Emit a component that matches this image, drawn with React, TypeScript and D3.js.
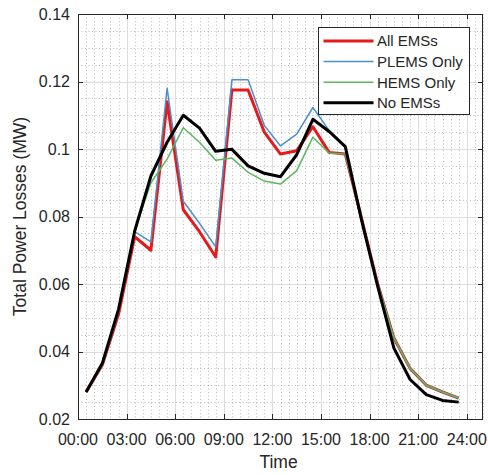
import { useRef, useEffect } from 'react';
import * as d3 from 'd3';

// half-hour sample points, hours since midnight
const hours = [0.5, 1.5, 2.5, 3.5, 4.5, 5.5, 6.5, 7.5, 8.5, 9.5, 10.5, 11.5, 12.5, 13.5, 14.5, 15.5, 16.5, 17.5, 18.5, 19.5, 20.5, 21.5, 22.5, 23.5];

const allEMSs = [0.028, 0.036, 0.051, 0.074, 0.070, 0.114, 0.082, 0.0755, 0.068, 0.1175, 0.1175, 0.105, 0.0985, 0.0995, 0.1066, 0.099, 0.0985, 0.0795, 0.060, 0.044, 0.035, 0.030, 0.028, 0.0262];
const plemsOnly = [0.028, 0.036, 0.052, 0.0755, 0.0725, 0.118, 0.0845, 0.078, 0.071, 0.1205, 0.1205, 0.107, 0.1009, 0.1044, 0.1123, 0.1055, 0.1005, 0.0795, 0.060, 0.044, 0.035, 0.030, 0.028, 0.0262];
const hemsOnly = [0.028, 0.036, 0.052, 0.0758, 0.090, 0.097, 0.1063, 0.102, 0.0967, 0.0973, 0.0931, 0.0905, 0.0896, 0.0936, 0.1035, 0.0988, 0.0985, 0.0795, 0.060, 0.044, 0.035, 0.030, 0.028, 0.0262];
const noEMSs = [0.028, 0.0365, 0.0525, 0.0757, 0.092, 0.102, 0.110, 0.1062, 0.0993, 0.0999, 0.095, 0.0928, 0.0918, 0.0983, 0.1088, 0.1052, 0.1007, 0.079, 0.0593, 0.041, 0.0317, 0.0272, 0.0255, 0.025];

const seriesNames = ['All EMSs', 'PLEMS Only', 'HEMS Only', 'No EMSs'];
const seriesColors = ['#e41a1c', '#4a90cc', '#5cb85c', '#000000'];
const seriesWidths = [3, 1.5, 1.5, 3];

const xTicks = [0, 3, 6, 9, 12, 15, 18, 21, 24];
const yTicks = [0.02, 0.04, 0.06, 0.08, 0.1, 0.12, 0.14];

export default function App() {
  const svgRef = useRef(null);

  useEffect(() => {
    const width = 488;
    const height = 475;
    const margin = { top: 14, right: 5, bottom: 56, left: 78 };
    const axisColor = '#262626';
    const font = 'Liberation Sans, Arial, Helvetica, sans-serif';

    const svg = d3.select(svgRef.current);
    svg.selectAll('*').remove();

    const x = d3.scaleLinear().domain([0, 25]).range([margin.left, width - margin.right]);
    const y = d3.scaleLinear().domain([0.02, 0.14]).range([height - margin.bottom, margin.top]);
    const [x0, x1] = x.range();
    const [y0, y1] = y.range();

    svg.append('rect')
      .attr('x', x0).attr('y', y1)
      .attr('width', x1 - x0).attr('height', y0 - y1)
      .attr('fill', '#fff');

    // minor grid (dotted)
    const xMinor = d3.range(0, 25.01, 0.5).filter(h => h % 3 !== 0);
    const yMinor = d3.range(0.02, 0.1401, 0.005).filter(v => Math.abs(v / 0.02 - Math.round(v / 0.02)) > 1e-6);
    const minor = svg.append('g')
      .attr('stroke', '#8a8a8a')
      .attr('stroke-opacity', 0.55)
      .attr('stroke-width', 1)
      .attr('stroke-dasharray', '1,2.5');
    minor.selectAll('.vx').data(xMinor).join('line')
      .attr('x1', d => Math.round(x(d)) + 0.5).attr('x2', d => Math.round(x(d)) + 0.5)
      .attr('y1', y1).attr('y2', y0);
    minor.selectAll('.hy').data(yMinor).join('line')
      .attr('y1', d => Math.round(y(d)) + 0.5).attr('y2', d => Math.round(y(d)) + 0.5)
      .attr('x1', x0).attr('x2', x1);

    // major grid
    const major = svg.append('g').attr('stroke', '#dcdcdc').attr('stroke-width', 1);
    major.selectAll('.gx').data(xTicks).join('line')
      .attr('x1', d => Math.round(x(d)) + 0.5).attr('x2', d => Math.round(x(d)) + 0.5)
      .attr('y1', y1).attr('y2', y0);
    major.selectAll('.gy').data(yTicks).join('line')
      .attr('y1', d => Math.round(y(d)) + 0.5).attr('y2', d => Math.round(y(d)) + 0.5)
      .attr('x1', x0).attr('x2', x1);

    // lines
    const allSeries = [allEMSs, plemsOnly, hemsOnly, noEMSs];
    const line = d3.line().x((d, i) => x(hours[i])).y(d => y(d));
    allSeries.forEach((vals, k) => {
      svg.append('path')
        .datum(vals)
        .attr('d', line)
        .attr('fill', 'none')
        .attr('stroke', seriesColors[k])
        .attr('stroke-width', seriesWidths[k])
        .attr('stroke-linejoin', 'round');
    });

    // axes box with inward ticks
    const box = svg.append('g').attr('stroke', axisColor).attr('stroke-width', 1).attr('fill', 'none');
    box.append('rect')
      .attr('x', x0 + 0.5).attr('y', y1 + 0.5)
      .attr('width', x1 - x0 - 1).attr('height', y0 - y1);
    const tl = 5;
    xTicks.forEach(t => {
      const px = Math.round(x(t)) + 0.5;
      box.append('line').attr('x1', px).attr('x2', px).attr('y1', y0).attr('y2', y0 - tl);
      box.append('line').attr('x1', px).attr('x2', px).attr('y1', y1).attr('y2', y1 + tl);
    });
    yTicks.forEach(t => {
      const py = Math.round(y(t)) + 0.5;
      box.append('line').attr('y1', py).attr('y2', py).attr('x1', x0).attr('x2', x0 + tl);
      box.append('line').attr('y1', py).attr('y2', py).attr('x1', x1).attr('x2', x1 - tl);
    });

    // tick labels
    const fmtTime = h => `${String(h).padStart(2, '0')}:00`;
    svg.append('g').selectAll('text').data(xTicks).join('text')
      .attr('x', d => x(d))
      .attr('y', y0 + 26)
      .attr('text-anchor', 'middle')
      .attr('font-family', font)
      .attr('font-size', 16)
      .attr('fill', axisColor)
      .text(fmtTime);

    svg.append('g').selectAll('text').data(yTicks).join('text')
      .attr('x', x0 - 8)
      .attr('y', d => y(d) + 5.5)
      .attr('text-anchor', 'end')
      .attr('font-family', font)
      .attr('font-size', 16)
      .attr('fill', axisColor)
      .text(d => d3.format('~g')(d));

    // axis titles
    svg.append('text')
      .attr('x', (x0 + x1) / 2 - 2)
      .attr('y', 468)
      .attr('text-anchor', 'middle')
      .attr('font-family', font)
      .attr('font-size', 17.5)
      .attr('fill', axisColor)
      .text('Time');

    svg.append('text')
      .attr('transform', `translate(26,${(y0 + y1) / 2}) rotate(-90)`)
      .attr('text-anchor', 'middle')
      .attr('font-family', font)
      .attr('font-size', 17.5)
      .attr('fill', axisColor)
      .text('Total Power Losses (MW)');

    // legend
    const lg = svg.append('g').attr('transform', 'translate(318.5,27.5)');
    lg.append('rect')
      .attr('width', 151).attr('height', 87)
      .attr('fill', '#fff')
      .attr('stroke', axisColor)
      .attr('stroke-width', 1);
    seriesNames.forEach((name, k) => {
      const ry = 13.5 + k * 20.6;
      lg.append('line')
        .attr('x1', 5).attr('x2', 55)
        .attr('y1', ry).attr('y2', ry)
        .attr('stroke', seriesColors[k])
        .attr('stroke-width', seriesWidths[k]);
      lg.append('text')
        .attr('x', 58.5)
        .attr('y', ry + 5.3)
        .attr('font-family', font)
        .attr('font-size', 15)
        .attr('fill', axisColor)
        .text(name);
    });
  }, []);

  return (
    <svg
      ref={svgRef}
      width={488}
      height={475}
      style={{ position: 'absolute', left: 0, top: 0, background: '#fff' }}
    />
  );
}
